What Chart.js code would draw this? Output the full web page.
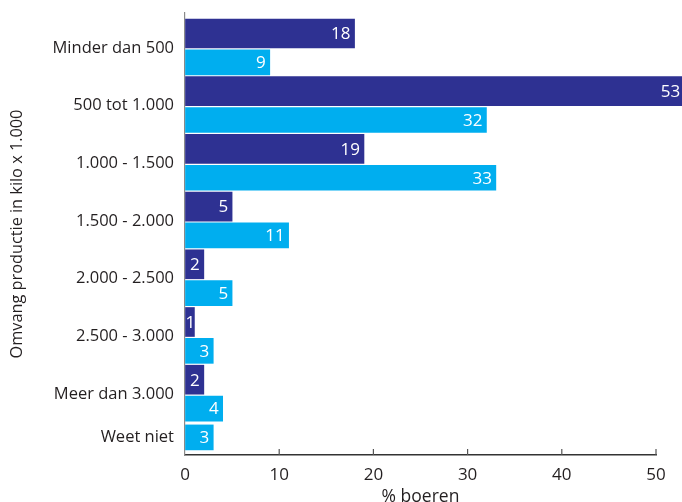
<!DOCTYPE html>
<html>
<head>
<meta charset="utf-8">
<script src="https://cdn.jsdelivr.net/npm/chart.js@4/dist/chart.umd.min.js"></script>
<style>
  html, body { margin: 0; padding: 0; background: #ffffff; }
  #wrap { width: 682px; height: 502px; }
</style>
</head>
<body>
<div id="wrap"><canvas id="c" width="682" height="502"></canvas></div>
<script>
// ---- data ----
const categories = ['Minder dan 500', '500 tot 1.000', '1.000 - 1.500', '1.500 - 2.000', '2.000 - 2.500', '2.500 - 3.000', 'Meer dan 3.000', 'Weet niet'];
const darkValues = [18, 53, 19, 5, 2, 1, 2, null];
const lightValues = [9, 32, 33, 11, 5, 3, 4, 3];
const xTicks = [0, 10, 20, 30, 40, 50];

// ---- build row layout (one row per bar) ----
const darkData = [];
const lightData = [];
const catTicks = [];
let row = 0;
categories.forEach((cat, i) => {
  const rows = [];
  if (darkValues[i] !== null) { darkData.push({ x: darkValues[i], y: row }); rows.push(row); row++; }
  if (lightValues[i] !== null) { lightData.push({ x: lightValues[i], y: row }); rows.push(row); row++; }
  const pos = rows.reduce((a, b) => a + b, 0) / rows.length;
  catTicks.push({ value: pos, label: cat });
});

const TXT = '#231F20';
const FONT = "'Open Sans', 'DejaVu Sans', sans-serif";

const valueLabels = {
  id: 'valueLabels',
  afterDatasetsDraw(chart) {
    const ctx = chart.ctx;
    ctx.save();
    ctx.fillStyle = '#ffffff';
    ctx.font = '17px ' + FONT;
    ctx.textAlign = 'right';
    ctx.textBaseline = 'middle';
    chart.data.datasets.forEach((ds, di) => {
      const meta = chart.getDatasetMeta(di);
      meta.data.forEach((el, idx) => {
        const txt = String(ds.data[idx].x);
        const w = ctx.measureText(txt).width;
        const xr = Math.max(el.x - 4, el.base + w);
        ctx.fillText(txt, xr, el.y + 1);
      });
    });
    ctx.restore();
  }
};

const innerTicks = {
  id: 'innerTicks',
  afterDraw(chart) {
    const ctx = chart.ctx;
    const xs = chart.scales.x;
    const b = chart.chartArea.bottom;
    ctx.save();
    ctx.strokeStyle = '#555555';
    ctx.lineWidth = 1.2;
    xTicks.forEach(v => {
      if (v === 0) return;
      const px = xs.getPixelForValue(v);
      ctx.beginPath();
      ctx.moveTo(px, b);
      ctx.lineTo(px, b - 6);
      ctx.stroke();
    });
    ctx.restore();
  }
};

new Chart(document.getElementById('c'), {
  type: 'bar',
  data: {
    datasets: [
      { label: 'dark', data: darkData, backgroundColor: '#2E3192', barThickness: 29, clip: false },
      { label: 'light', data: lightData, backgroundColor: '#00AEEF', barThickness: 25, clip: false }
    ]
  },
  options: {
    indexAxis: 'y',
    responsive: false,
    animation: false,
    devicePixelRatio: 1,
    layout: { padding: { top: 13, right: 26, left: 0, bottom: 0 } },
    plugins: { legend: { display: false }, tooltip: { enabled: false } },
    scales: {
      x: {
        type: 'linear',
        min: 0,
        max: 50,
        afterBuildTicks: s => { s.ticks = xTicks.map(v => ({ value: v })); },
        afterFit: s => { s.height = 47; s.paddingLeft = 0; s.paddingRight = 0; },
        grid: { drawOnChartArea: false, drawTicks: false },
        border: { display: true, color: '#333333', width: 1.5 },
        ticks: { color: TXT, font: { family: FONT, size: 17 }, padding: 10 },
        title: { display: true, text: '% boeren', color: TXT, font: { family: FONT, size: 17.5, lineHeight: 1.0 }, padding: { top: 0, bottom: -4 } }
      },
      y: {
        type: 'linear',
        reverse: true,
        stacked: true,
        offset: false,
        min: -0.71,
        max: 14.61,
        afterBuildTicks: s => { s.ticks = catTicks.map(t => ({ value: t.value })); },
        afterFit: s => { s.width = 185; s.paddingTop = 0; s.paddingBottom = 0; },
        grid: { drawOnChartArea: false, drawTicks: false, offset: false },
        border: { display: true, color: '#8a8a8a', width: 1.2 },
        ticks: {
          color: TXT,
          font: { family: FONT, size: 16.5 },
          padding: 11,
          callback: v => { const t = catTicks.find(c => Math.abs(c.value - v) < 1e-6); return t ? t.label : ''; }
        },
        title: { display: true, text: 'Omvang productie in kilo x 1.000', color: TXT, font: { family: FONT, size: 16.3 }, padding: { top: 8, bottom: 0 } }
      }
    }
  },
  plugins: [valueLabels, innerTicks]
});
</script>
</body>
</html>
